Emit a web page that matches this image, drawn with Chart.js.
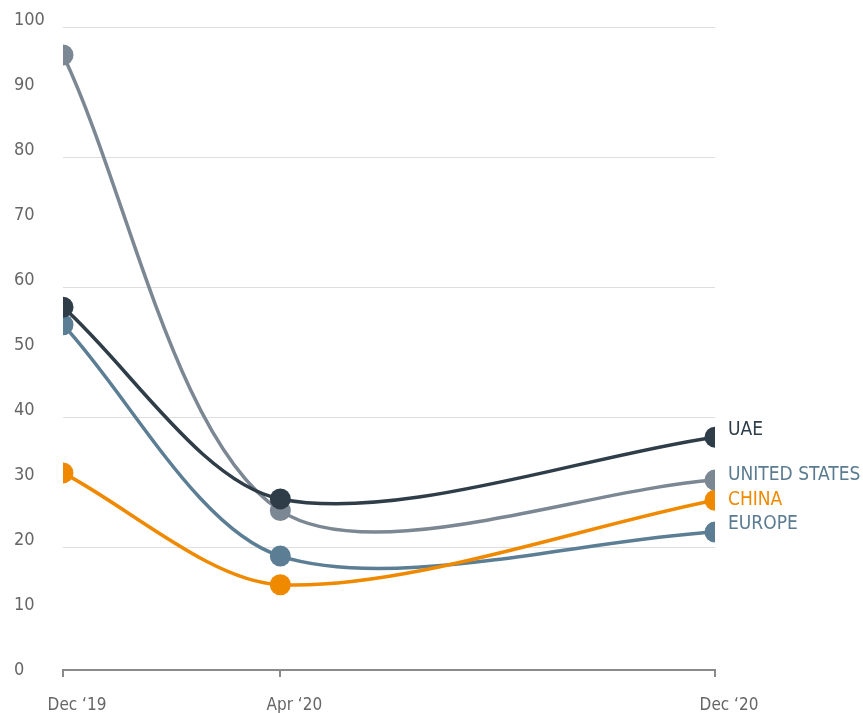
<!DOCTYPE html>
<html>
<head>
<meta charset="utf-8">
<script src="https://cdn.jsdelivr.net/npm/chart.js@4.4.1/dist/chart.umd.min.js"></script>
<style>
  html, body { margin: 0; padding: 0; background: #fff; }
  #wrap { width: 863px; height: 713px; position: relative; }
</style>
</head>
<body>
<div id="wrap"><canvas id="chart"></canvas></div>
<script>
// months since Dec '19
const months = [0, 4, 12]
const monthLabels = { 0: "Dec \u201819", 4: "Apr \u201820", 12: "Dec \u201820" }
const yTicks = [0, 10, 20, 30, 40, 50, 60, 70, 80, 90, 100]

const uae = [56.9, 27.4, 36.9]
const unitedStates = [95.7, 25.6, 30.3]
const china = [31.4, 14.2, 27.2]
const europe = [54.2, 18.6, 22.3]

const FONT = "'Liberation Sans Narrow', 'DejaVu Sans Condensed', 'Roboto Condensed', sans-serif"

const series = [
  { name: "UAE", values: uae, color: "#2f3d48", text: "#2f3d48", dy: -7 },
  { name: "UNITED STATES", values: unitedStates, color: "#7b8792", text: "#5b7b91", dy: -5 },
  { name: "CHINA", values: china, color: "#ef8a00", text: "#ef8a00", dy: 0 },
  { name: "EUROPE", values: europe, color: "#5b7e94", text: "#5b7b91", dy: -8 }
]

// names at the end of each line
const endLabels = {
  id: "endLabels",
  afterDatasetsDraw(chart) {
    const ctx = chart.ctx
    ctx.save()
    ctx.font = "19px " + FONT
    ctx.textAlign = "left"
    ctx.textBaseline = "middle"
    chart.data.datasets.forEach((ds, i) => {
      const meta = chart.getDatasetMeta(i)
      const pt = meta.data[meta.data.length - 1]
      ctx.fillStyle = series[i].text
      ctx.fillText(ds.label, pt.x + 13, pt.y + series[i].dy)
    })
    ctx.restore()
  }
}

new Chart(document.getElementById("chart"), {
  type: "line",
  data: {
    datasets: series.map(s => ({
      label: s.name,
      data: months.map((m, i) => ({ x: m, y: s.values[i] })),
      borderColor: s.color,
      backgroundColor: s.color,
      pointBackgroundColor: s.color,
      pointBorderWidth: 0,
      pointRadius: 10.5,
      borderWidth: 3.5,
      tension: 0.3,
      fill: false
    }))
  },
  options: {
    responsive: true,
    maintainAspectRatio: false,
    animation: false,
    layout: { padding: { left: 14, right: 148, top: 27, bottom: 0 } },
    plugins: {
      legend: { display: false },
      tooltip: { enabled: false }
    },
    scales: {
      x: {
        type: "linear",
        min: 0,
        max: 12,
        afterBuildTicks: scale => { scale.ticks = months.map(v => ({ value: v })) },
        afterFit: scale => { scale.height = 43 },
        border: { display: true, color: "#8a8a8a", width: 2 },
        grid: { drawOnChartArea: false, color: "#8a8a8a", lineWidth: 2, tickLength: 7 },
        ticks: {
          color: "#666",
          font: { family: FONT, size: 17 },
          padding: 18,
          labelOffset: 14,
          maxRotation: 0,
          callback: v => monthLabels[v]
        }
      },
      y: {
        min: 1.08,
        max: 100,
        afterBuildTicks: scale => { scale.ticks = yTicks.map(v => ({ value: v })) },
        afterFit: scale => { scale.width = 49 },
        border: { display: false },
        grid: {
          drawTicks: false,
          color: c => (c.tick && c.tick.value > 0 && c.tick.value % 20 === 0) ? "#dedede" : "rgba(0,0,0,0)",
          lineWidth: 1
        },
        ticks: {
          color: "#666",
          font: { family: FONT, size: 18 },
          crossAlign: "far",
          labelOffset: -7
        }
      }
    }
  },
  plugins: [endLabels]
})
</script>
</body>
</html>
